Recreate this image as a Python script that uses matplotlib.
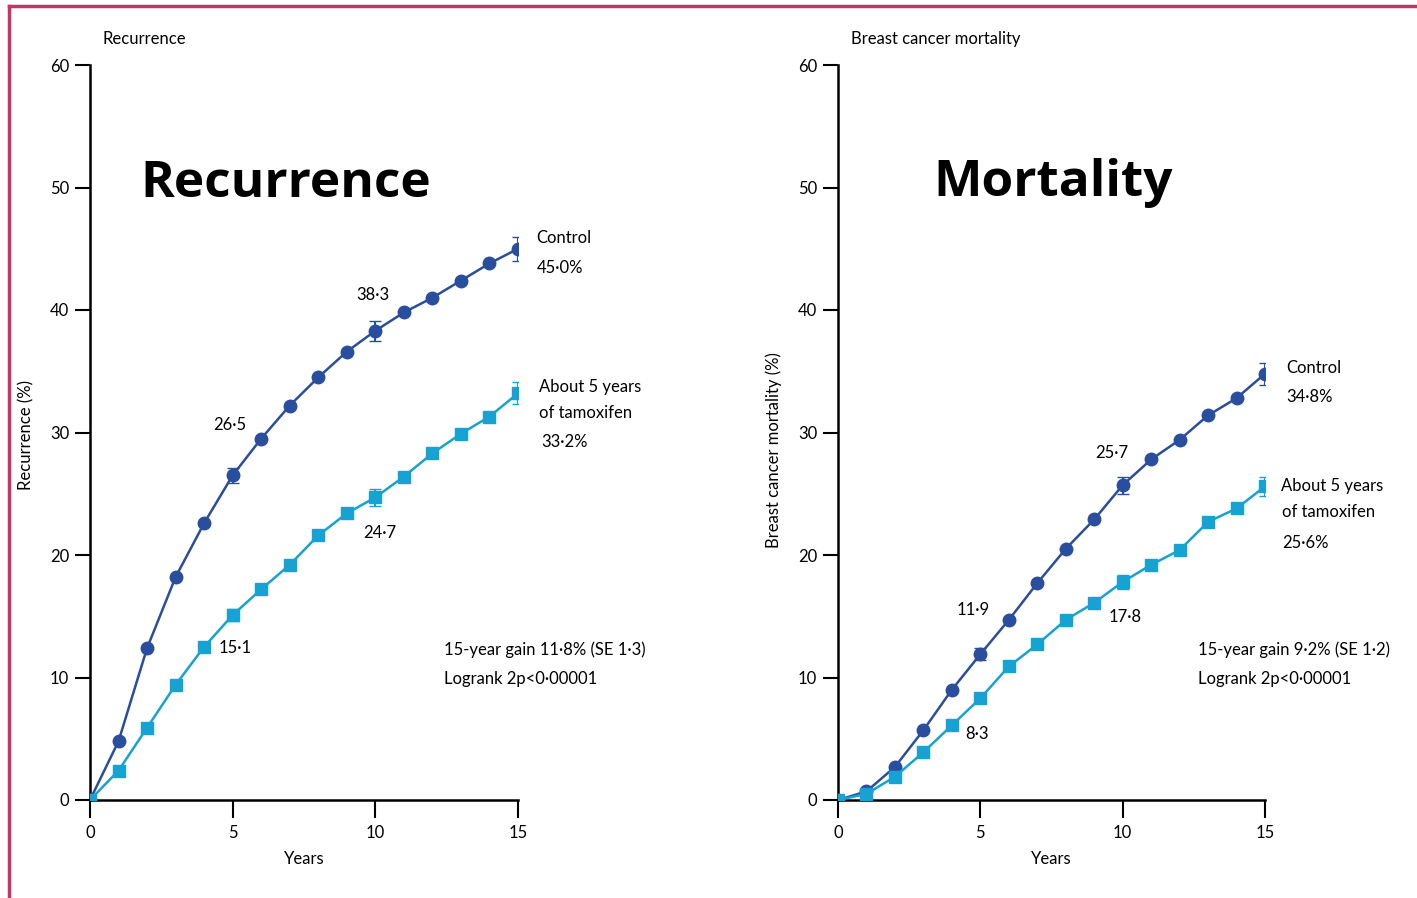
import matplotlib
matplotlib.use('Agg')
import matplotlib.pyplot as plt
from matplotlib.lines import Line2D

plt.rcParams['font.family'] = ['Lato', 'DejaVu Sans']

years = list(range(16))

# recurrence (%)
rec_control = [0, 4.8, 12.4, 18.2, 22.6, 26.5, 29.5, 32.2, 34.5, 36.6, 38.3, 39.8, 41.0, 42.4, 43.8, 45.0]
rec_tamox = [0, 2.4, 5.9, 9.4, 12.5, 15.1, 17.2, 19.2, 21.6, 23.4, 24.7, 26.4, 28.3, 29.9, 31.3, 33.2]
rec_err_years = [5, 10, 15]
rec_err_control = [0.6, 0.8, 1.0]
rec_err_tamox = [0.5, 0.7, 0.9]

# breast cancer mortality (%)
mort_control = [0, 0.7, 2.7, 5.7, 9.0, 11.9, 14.7, 17.7, 20.5, 22.9, 25.7, 27.8, 29.4, 31.4, 32.8, 34.8]
mort_tamox = [0, 0.5, 1.9, 3.9, 6.1, 8.3, 10.9, 12.7, 14.7, 16.1, 17.8, 19.2, 20.4, 22.7, 23.8, 25.6]
mort_err_years = [5, 10, 15]
mort_err_control = [0.5, 0.7, 0.9]
mort_err_tamox = [0.4, 0.6, 0.8]

dark = '#2a4e9e'
light = '#16a2d2'

fig = plt.figure(figsize=(14.17, 8.98), dpi=100)

ax1 = fig.add_axes([90 / 1417, 98 / 898, 428 / 1417, 735 / 898])
ax2 = fig.add_axes([838 / 1417, 98 / 898, 427 / 1417, 735 / 898])


def draw_panel(ax, control, tamox, err_years, err_c, err_t):
    ax.plot(years, control, color=dark, lw=1.8, marker='o', ms=9, zorder=3)
    ax.plot(years, tamox, color=light, lw=1.8, marker='s', ms=8, zorder=3)
    ax.errorbar(err_years, [control[y] for y in err_years], yerr=err_c, fmt='none',
                ecolor=dark, elinewidth=1.5, capsize=4, zorder=4)
    ax.errorbar(err_years, [tamox[y] for y in err_years], yerr=err_t, fmt='none',
                ecolor=light, elinewidth=1.5, capsize=4, zorder=4)
    ax.set_xlim(0, 15)
    ax.set_ylim(0, 60)
    ax.set_xticks([0, 5, 10, 15])
    ax.set_yticks([0, 10, 20, 30, 40, 50, 60])
    for s in ['top', 'right']:
        ax.spines[s].set_visible(False)
    for s in ['left', 'bottom']:
        ax.spines[s].set_linewidth(1.8)
    ax.tick_params(axis='both', length=11, width=1.5, labelsize=12, pad=4)
    ax.tick_params(axis='x', length=13, pad=5)
    for c in ax.spines.values():
        c.set_clip_on(False)
    ax.set_xlabel('Years', fontsize=12, labelpad=7)


draw_panel(ax1, rec_control, rec_tamox, rec_err_years, rec_err_control, rec_err_tamox)
draw_panel(ax2, mort_control, mort_tamox, mort_err_years, mort_err_control, mort_err_tamox)

ax1.set_ylabel('Recurrence (%)', fontsize=12)
ax1.yaxis.set_label_coords(-0.13, 0.497)
ax2.set_ylabel('Breast cancer mortality (%)', fontsize=12)
ax2.yaxis.set_label_coords(-0.13, 0.476)

fs = 12
big = ['Open Sans', 'DejaVu Sans']
# left panel texts
ax1.text(0.03, 1.035, 'Recurrence', transform=ax1.transAxes, fontsize=12, va='center')
ax1.text(1.75, 50.3, 'Recurrence', fontsize=37, fontweight='bold', va='center', family=big)
ax1.text(15.65, 45.9, 'Control', fontsize=fs, va='center')
ax1.text(15.65, 43.4, '45·0%', fontsize=fs, va='center')
ax1.text(15.75, 33.7, 'About 5 years', fontsize=fs, va='center')
ax1.text(15.75, 31.6, 'of tamoxifen', fontsize=fs, va='center')
ax1.text(15.8, 29.2, '33·2%', fontsize=fs, va='center')
ax1.text(4.9, 30.6, '26·5', fontsize=fs, va='center', ha='center')
ax1.text(9.9, 41.2, '38·3', fontsize=fs, va='center', ha='center')
ax1.text(4.5, 12.4, '15·1', fontsize=fs, va='center')
ax1.text(10.15, 21.8, '24·7', fontsize=fs, va='center', ha='center')
ax1.text(12.4, 12.3, '15-year gain 11·8% (SE 1·3)', fontsize=fs, va='center')
ax1.text(12.4, 9.9, 'Logrank 2p<0·00001', fontsize=fs, va='center')

# right panel texts
ax2.text(0.03, 1.035, 'Breast cancer mortality', transform=ax2.transAxes, fontsize=12, va='center')
ax2.text(3.34, 50.4, 'Mortality', fontsize=37, fontweight='bold', va='center', family=big)
ax2.text(15.75, 35.3, 'Control', fontsize=fs, va='center')
ax2.text(15.75, 32.9, '34·8%', fontsize=fs, va='center')
ax2.text(15.55, 25.6, 'About 5 years', fontsize=fs, va='center')
ax2.text(15.6, 23.5, 'of tamoxifen', fontsize=fs, va='center')
ax2.text(15.6, 21.0, '25·6%', fontsize=fs, va='center')
ax2.text(9.6, 28.3, '25·7', fontsize=fs, va='center', ha='center')
ax2.text(4.75, 15.5, '11·9', fontsize=fs, va='center', ha='center')
ax2.text(10.1, 14.9, '17·8', fontsize=fs, va='center', ha='center')
ax2.text(4.9, 5.4, '8·3', fontsize=fs, va='center', ha='center')
ax2.text(12.65, 12.3, '15-year gain 9·2% (SE 1·2)', fontsize=fs, va='center')
ax2.text(12.65, 9.9, 'Logrank 2p<0·00001', fontsize=fs, va='center')

# frame lines on top and left edge
border = '#c8336a'
fig.add_artist(Line2D([9 / 1417, 1], [1 - 6 / 898, 1 - 6 / 898], color=border, lw=2.5, transform=fig.transFigure))
fig.add_artist(Line2D([9 / 1417, 9 / 1417], [0, 1 - 6 / 898], color=border, lw=2.5, transform=fig.transFigure))

fig.savefig('out.png', dpi=100)
